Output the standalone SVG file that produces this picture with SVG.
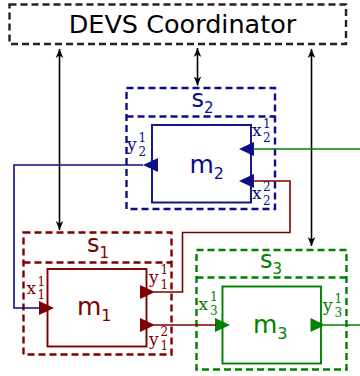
<svg xmlns="http://www.w3.org/2000/svg" width="360" height="376" viewBox="0 0 360 376">
<style>
.title{font-family:"DejaVu Sans",sans-serif;font-size:25.5px;fill:#000}
.dash{fill:none;stroke-width:2.4;stroke-dasharray:7 4}
.box{fill:none;stroke-width:1.9}
.sl{font-family:"DejaVu Sans",sans-serif;font-size:24px}
.ss{font-size:15px}
.ml{font-family:"DejaVu Sans",sans-serif;font-size:25px}
.ms{font-size:16px}
.p{font-family:"DejaVu Serif","Liberation Serif",serif;font-size:17px}
.pi{font-family:"DejaVu Serif","Liberation Serif",serif;font-size:12px}
.blue{stroke:#0d0d87}
.red{stroke:#7f0000}
.green{stroke:#008000}
.conn{fill:none;stroke-width:1.6}
.bk{fill:none;stroke:#000;stroke-width:1.6}
</style>
<defs>
<marker id="ah" viewBox="-10 -5 11 10" refX="0" refY="0" markerWidth="11" markerHeight="10" markerUnits="userSpaceOnUse" orient="auto-start-reverse">
<path d="M0,0 L-9,-3.8 L-6.5,0 L-9,3.8 Z" fill="#000"/>
</marker>
</defs>

<g id="coordinator">
<rect x="9.5" y="4.5" width="336.5" height="39.5" class="dash" stroke="#2e1e1e"/>
<text x="182.5" y="33" text-anchor="middle" class="title">DEVS Coordinator</text>
</g>

<g id="s2">
<rect x="126.5" y="88" width="148.5" height="121" class="dash blue"/>
<line x1="126.5" y1="116.5" x2="275" y2="116.5" class="dash blue"/>
<text x="191.5" y="107" class="sl" fill="#0d0d87">s<tspan class="ss" dy="6">2</tspan></text>
</g>
<g id="m2">
<rect x="152" y="125" width="99" height="77.5" class="box blue"/>
<text x="189.5" y="173" class="ml" fill="#0d0d87">m<tspan class="ms" dy="6">2</tspan></text>
<polygon points="239,149 254,142 254,156" fill="#0d0d87"/>
<polygon points="239,181 254,174 254,188" fill="#0d0d87"/>
<polygon points="143,165 158,158 158,172" fill="#0d0d87"/>
<text x="252" y="136" class="p" fill="#0d0d87">x</text>
<text x="263" y="127.5" class="pi" fill="#0d0d87">1</text>
<text x="263" y="141.5" class="pi" fill="#0d0d87">2</text>
<text x="252" y="199" class="p" fill="#0d0d87">x</text>
<text x="263" y="190.5" class="pi" fill="#0d0d87">2</text>
<text x="263" y="205" class="pi" fill="#0d0d87">2</text>
<text x="127" y="150" class="p" fill="#0d0d87">y</text>
<text x="138.5" y="141.5" class="pi" fill="#0d0d87">1</text>
<text x="138.5" y="156" class="pi" fill="#0d0d87">2</text>
</g>

<g id="s1">
<rect x="23.5" y="232.5" width="148" height="122" class="dash red"/>
<line x1="23.5" y1="262.5" x2="171.5" y2="262.5" class="dash red"/>
<text x="87" y="252" class="sl" fill="#7f0000">s<tspan class="ss" dy="6">1</tspan></text>
</g>
<g id="m1">
<rect x="47.5" y="269" width="99" height="77.5" class="box red"/>
<text x="77" y="315" class="ml" fill="#7f0000">m<tspan class="ms" dy="6">1</tspan></text>
<polygon points="54,308 39,301 39,315" fill="#7f0000"/>
<polygon points="155,292 140,285 140,299" fill="#7f0000"/>
<polygon points="155,325 140,318 140,332" fill="#7f0000"/>
<text x="26.5" y="294" class="p" fill="#7f0000">x</text>
<text x="37.5" y="285.5" class="pi" fill="#7f0000">1</text>
<text x="37.5" y="299" class="pi" fill="#7f0000">1</text>
<text x="149" y="283" class="p" fill="#7f0000">y</text>
<text x="160.5" y="274" class="pi" fill="#7f0000">1</text>
<text x="160.5" y="289" class="pi" fill="#7f0000">1</text>
<text x="149" y="345" class="p" fill="#7f0000">y</text>
<text x="160.5" y="336" class="pi" fill="#7f0000">2</text>
<text x="160.5" y="350" class="pi" fill="#7f0000">1</text>
</g>

<g id="s3">
<rect x="196.5" y="250" width="150" height="119.5" class="dash green"/>
<line x1="196.5" y1="277.5" x2="346.5" y2="277.5" class="dash green"/>
<text x="260" y="268" class="sl" fill="#008000">s<tspan class="ss" dy="6">3</tspan></text>
</g>
<g id="m3">
<rect x="222.5" y="286.5" width="98.5" height="77" class="box green"/>
<text x="253" y="333" class="ml" fill="#008000">m<tspan class="ms" dy="6">3</tspan></text>
<polygon points="230,325 215,318 215,332" fill="#008000"/>
<polygon points="325,325 310.5,318 310.5,332" fill="#008000"/>
<text x="198.5" y="310" class="p" fill="#008000">x</text>
<text x="210" y="301" class="pi" fill="#008000">1</text>
<text x="210" y="315" class="pi" fill="#008000">3</text>
<text x="323" y="311" class="p" fill="#008000">y</text>
<text x="334.5" y="303" class="pi" fill="#008000">1</text>
<text x="334.5" y="317" class="pi" fill="#008000">3</text>
</g>

<g id="connectors">
<line x1="59.5" y1="49" x2="59.5" y2="230" class="bk" marker-start="url(#ah)" marker-end="url(#ah)"/>
<line x1="197.5" y1="48" x2="197.5" y2="85.5" class="bk" marker-start="url(#ah)" marker-end="url(#ah)"/>
<line x1="311.5" y1="49" x2="311.5" y2="246" class="bk" marker-start="url(#ah)" marker-end="url(#ah)"/>
<polyline points="143,165 14,165 14,308 40,308" class="conn" stroke="#0d0d87"/>
<polyline points="154,292 182.5,292 182.5,232.5 290,232.5 290,181 253,181" class="conn" stroke="#7f0000"/>
<line x1="154" y1="325" x2="216" y2="325" class="conn" stroke="#7f0000"/>
<line x1="360" y1="149" x2="253" y2="149" class="conn" stroke="#008000"/>
<line x1="324" y1="325" x2="360" y2="325" class="conn" stroke="#008000"/>
</g>
</svg>
